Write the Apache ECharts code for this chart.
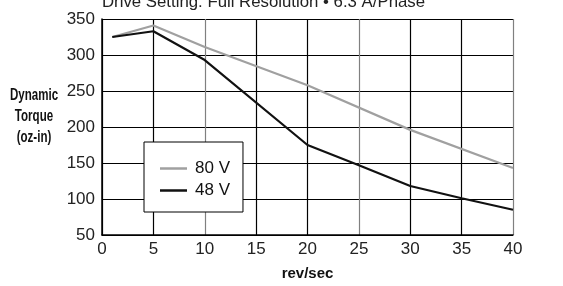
<!DOCTYPE html>
<html>
<head>
<meta charset="utf-8">
<script src="https://cdn.jsdelivr.net/npm/echarts@6/dist/echarts.min.js"></script>
<style>
  html, body { margin: 0; padding: 0; background: #fff; }
  #chart { width: 563px; height: 286px; }
</style>
</head>
<body>
<div id="chart"></div>
<script>
const FONT = "'Liberation Sans', Arial, sans-serif";

// rev/sec, oz-in
const speed80V = [1, 5, 10, 20, 30, 40];
const torque80V = [325, 341, 311, 258, 196, 143];
const speed48V = [1, 5, 10, 20, 25, 30, 35, 40];
const torque48V = [325, 333, 293, 175, 147, 118, 101, 85];

const seriesNames = ["80 V", "48 V"];
const titleText = "Drive Setting: Full Resolution \u2022 6.3 A/Phase";
const xAxisTitle = "rev/sec";
const yAxisTitle = ["Dynamic", "Torque", "(oz-in)"];

const zip = (xs, ys) => xs.map((x, i) => [x, ys[i]]);

const chart = echarts.init(document.getElementById("chart"));
chart.setOption({
  animation: false,
  textStyle: { fontFamily: FONT },
  title: {
    text: titleText,
    left: 102,
    top: -6,
    padding: 0,
    textStyle: { fontFamily: FONT, fontSize: 16.8, fontWeight: "normal", color: "#222" },
  },
  grid: { left: 102, right: 50, top: 19, bottom: 46 },
  legend: {
    orient: "vertical",
    left: 144,
    top: 142,
    padding: [18, 13, 13, 16],
    itemGap: 5,
    itemWidth: 27,
    itemHeight: 2.5,
    icon: "rect",
    backgroundColor: "#fff",
    borderColor: "#000",
    borderWidth: 1,
    textStyle: { fontFamily: FONT, fontSize: 17, color: "#111", padding: [0, 0, 0, 3] },
    data: seriesNames,
  },
  xAxis: {
    type: "value",
    min: 0,
    max: 40,
    interval: 5,
    name: xAxisTitle,
    nameLocation: "middle",
    nameGap: 31,
    nameTextStyle: { fontFamily: FONT, fontSize: 15, fontWeight: "bold", color: "#111" },
    axisLine: { lineStyle: { color: "#000", width: 1.5 } },
    axisTick: { show: false },
    axisLabel: { margin: 6, fontSize: 17, color: "#222", fontFamily: FONT },
    splitLine: { lineStyle: { color: ["#000", "#000", "#808080"], width: 1.2 } },
  },
  yAxis: {
    type: "value",
    min: 50,
    max: 350,
    interval: 50,
    axisLine: { show: true, lineStyle: { color: "#000", width: 1.5 } },
    axisTick: { show: false },
    axisLabel: { margin: 7, fontSize: 17, color: "#222", fontFamily: FONT },
    splitLine: { lineStyle: { color: "#000", width: 1.2 } },
  },
  // axis title at the left, squeezed to look like the condensed original
  graphic: yAxisTitle.map((t, i) => ({
    type: "text",
    x: 34,
    y: 87 + i * 21,
    scaleX: 0.7,
    style: {
      text: t,
      align: "center",
      fontFamily: FONT,
      fontSize: 16.5,
      fontWeight: "bold",
      fill: "#111",
    },
    z: 10,
  })),
  series: [
    {
      name: seriesNames[0],
      type: "line",
      data: zip(speed80V, torque80V),
      symbol: "none",
      lineStyle: { color: "#a0a0a0", width: 2.2 },
      itemStyle: { color: "#a0a0a0" },
    },
    {
      name: seriesNames[1],
      type: "line",
      data: zip(speed48V, torque48V),
      symbol: "none",
      lineStyle: { color: "#111", width: 2.2 },
      itemStyle: { color: "#111" },
    },
  ],
});
</script>
</body>
</html>
